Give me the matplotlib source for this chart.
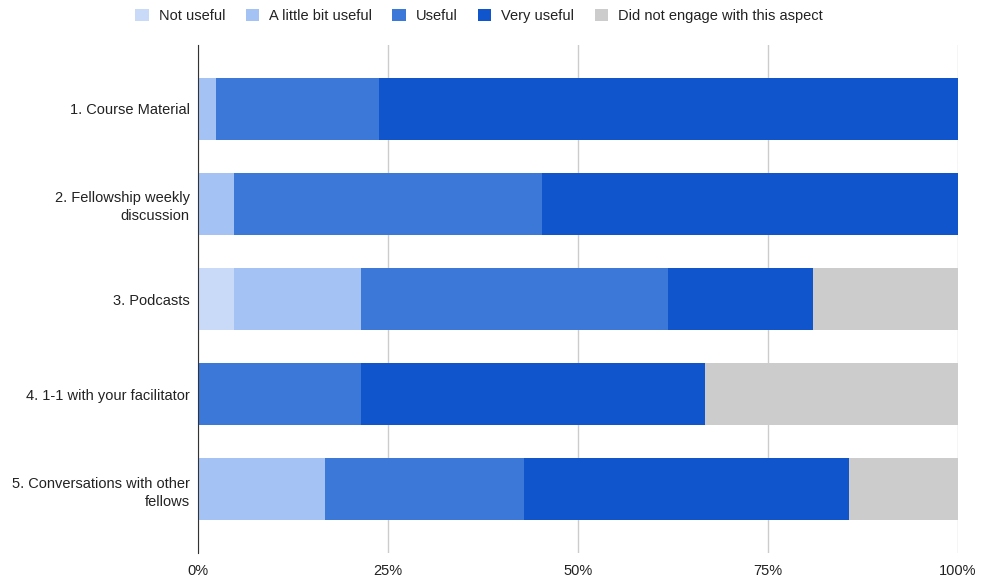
import matplotlib.pyplot as plt
import numpy as np

plt.rcParams['font.family'] = ['Liberation Sans', 'DejaVu Sans']

# survey responses (42 fellows)
aspects = ["1. Course Material", "2. Fellowship weekly\ndiscussion", "3. Podcasts",
           "4. 1-1 with your facilitator", "5. Conversations with other\nfellows"]
not_useful = [0, 0, 2, 0, 0]
little_useful = [1, 2, 7, 0, 7]
useful = [9, 17, 17, 9, 11]
very_useful = [32, 23, 8, 19, 18]
no_engage = [0, 0, 8, 14, 6]

series = [
    ("Not useful", not_useful, "#c9daf8"),
    ("A little bit useful", little_useful, "#a4c2f4"),
    ("Useful", useful, "#3c78d8"),
    ("Very useful", very_useful, "#1155cc"),
    ("Did not engage with this aspect", no_engage, "#cccccc"),
]

totals = np.sum([s[1] for s in series], axis=0)

fig = plt.figure(figsize=(9.88, 5.77), dpi=100)
ax = fig.add_axes([0.2004, 0.0416, 0.7692, 0.8804])

y = np.arange(len(aspects))
left = np.zeros(len(aspects))
for name, vals, color in series:
    pct = np.array(vals) / totals * 100
    ax.barh(y, pct, left=left, height=0.65, color=color, label=name, zorder=2)
    left += pct

ax.set_xlim(0, 100)
ax.set_ylim(4.67, -0.67)
ax.set_xticks([0, 25, 50, 75, 100])
ax.set_xticklabels(["0%", "25%", "50%", "75%", "100%"], fontsize=10.5, color="#222222")
ax.set_yticks(y)
ax.set_yticklabels(aspects, fontsize=10.5, color="#222222", multialignment="right",
                   linespacing=1.35)
ax.tick_params(axis='y', length=0, pad=6)
ax.tick_params(axis='x', length=0, pad=8)
ax.grid(axis='x', color="#cccccc", linewidth=1, zorder=0)
for sp in ["top", "right", "bottom"]:
    ax.spines[sp].set_visible(False)
ax.spines["left"].set_color("#333333")
ax.spines["left"].set_zorder(3)

fig.legend(loc="center", bbox_to_anchor=(0.485, 0.973), ncol=5, frameon=False,
           fontsize=10.5, handlelength=0.9, handleheight=0.9, handletextpad=0.7,
           columnspacing=1.4, labelcolor="#222222")

plt.savefig("out.png", dpi=100)
